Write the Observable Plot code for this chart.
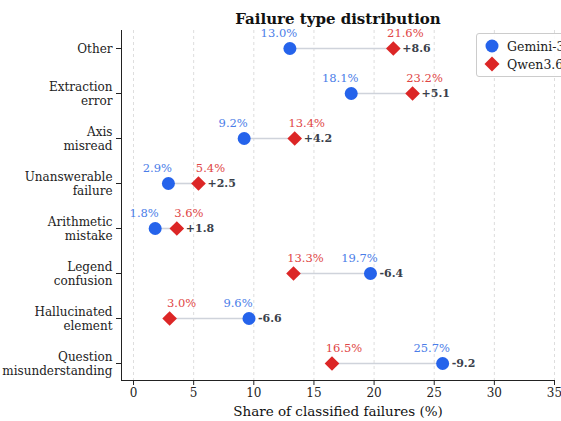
<!DOCTYPE html>
<html>
<head>
<meta charset="utf-8">
<script src="https://cdn.jsdelivr.net/npm/d3@7"></script>
<script src="https://cdn.jsdelivr.net/npm/@observablehq/plot@0.6"></script>
<style>
  html, body { margin: 0; padding: 0; background: #fff; overflow: hidden; width: 561px; height: 421px; }
  #wrap { position: relative; width: 561px; height: 421px; }
  #legend { position: absolute; left: 476px; top: 33px; width: 120px; border: 1px solid #cccccc; border-radius: 3px; background: rgba(255,255,255,0.9);
            font-family: "DejaVu Serif", serif; font-size: 12.5px; color: #222; padding: 3px 0 3px 0; }
  .item { display: flex; align-items: center; height: 18px; }
  .sw { width: 30px; display: flex; justify-content: center; align-items: center; }
</style>
</head>
<body>
<div id="wrap">
  <div id="chart"></div>
  <div id="legend"></div>
</div>
<script>
const categories = ["Other", "Extraction\nerror", "Axis\nmisread", "Unanswerable\nfailure", "Arithmetic\nmistake", "Legend\nconfusion", "Hallucinated\nelement", "Question\nmisunderstanding"];
const gemini = [13.0, 18.1, 9.2, 2.9, 1.8, 19.7, 9.6, 25.7];
const qwen = [21.6, 23.2, 13.4, 5.4, 3.6, 13.3, 3.0, 16.5];
const seriesNames = ["Gemini-3 Pro", "Qwen3.6 Plus"];
const xTicks = [0, 5, 10, 15, 20, 25, 30, 35];

const BLUE = "#2563eb", RED = "#dc2626";
const rows = categories.map((c, i) => ({cat: c, g: gemini[i], q: qwen[i], d: +(qwen[i] - gemini[i]).toFixed(1)}));
const font = "DejaVu Serif";

const plot = Plot.plot({
  width: 561, height: 421,
  marginLeft: 121, marginRight: 7, marginTop: 30, marginBottom: 41,
  style: {fontFamily: font, fontSize: "12px", color: "#222", background: "white", overflow: "visible"},
  x: {domain: [-1, 35], ticks: xTicks},
  y: {domain: categories, type: "point", padding: 0.355},
  marks: [
    Plot.ruleX(xTicks, {stroke: "#d4d4d4", strokeDasharray: "3,3", strokeWidth: 0.8}),
    Plot.ruleX([-1], {stroke: "#222", strokeWidth: 1}),
    Plot.frame({anchor: "bottom", stroke: "#222", strokeWidth: 1}),
    Plot.axisX({ticks: xTicks, tickSize: 5, tickPadding: 3, fontSize: 12, label: null, stroke: "#222"}),
    Plot.axisY({tickSize: 5, tickPadding: 4, fontSize: 12, label: null, lineHeight: 1.15, stroke: "#222"}),
    Plot.text(["Share of classified failures (%)"], {frameAnchor: "bottom", dy: 35, fontSize: 13.5, fill: "#111"}),
    Plot.text(["Failure type distribution"], {frameAnchor: "top", dy: -17, fontSize: 15, fontWeight: "bold", fill: "#111"}),
    Plot.link(rows, {x1: "g", x2: "q", y1: "cat", y2: "cat", stroke: "#cfd3db", strokeWidth: 1.6}),
    Plot.dot(rows, {x: "g", y: "cat", r: 6.5, fill: BLUE, symbol: "circle"}),
    Plot.dot(rows, {x: "q", y: "cat", r: 6.6, fill: RED, symbol: "diamond2"}),
    Plot.text(rows, {x: "g", y: "cat", text: d => d.g.toFixed(1) + "%", dy: -15, dx: -11, fontSize: 11.5, fill: "#4a7de8"}),
    Plot.text(rows, {x: "q", y: "cat", text: d => d.q.toFixed(1) + "%", dy: -15, dx: 12, fontSize: 11.5, fill: "#e04545"}),
    Plot.text(rows, {x: d => Math.max(d.g, d.q), y: "cat", text: d => (d.d > 0 ? "+" : "") + d.d.toFixed(1), dx: 9, textAnchor: "start", fontSize: 11, fontWeight: "bold", fill: "#3a3f4b"})
  ]
});
document.getElementById("chart").appendChild(plot);

const legend = document.getElementById("legend");
const symbols = [
  `<svg width="16" height="16"><circle cx="8" cy="8" r="6.5" fill="${BLUE}"/></svg>`,
  `<svg width="18" height="18"><path d="M9,1.5L16.5,9L9,16.5L1.5,9Z" fill="${RED}"/></svg>`
];
seriesNames.forEach((n, i) => {
  const it = document.createElement("div");
  it.className = "item";
  it.innerHTML = `<span class="sw">${symbols[i]}</span><span>${n}</span>`;
  legend.appendChild(it);
});
</script>
</body>
</html>
